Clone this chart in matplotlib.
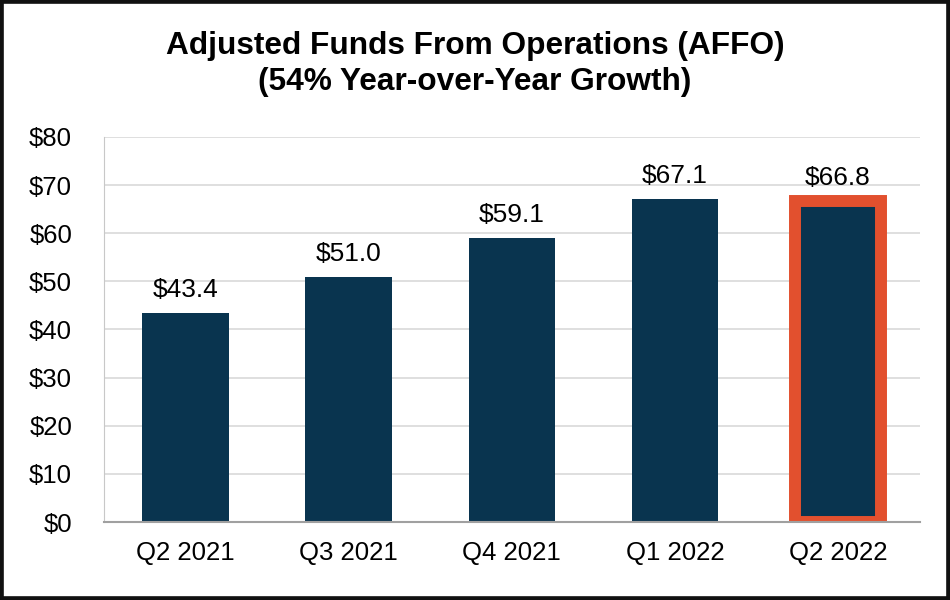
import matplotlib
matplotlib.use("Agg")
import matplotlib.pyplot as plt
from matplotlib.patches import Rectangle

plt.rcParams['font.family'] = ['Liberation Sans', 'DejaVu Sans']

# data
quarters = ["Q2 2021", "Q3 2021", "Q4 2021", "Q1 2022", "Q2 2022"]
affo = [43.4, 51.0, 59.1, 67.1, 66.8]
yticks = [0, 10, 20, 30, 40, 50, 60, 70, 80]

navy = "#09344f"
orange = "#e2502e"

fig = plt.figure(figsize=(9.5, 6), dpi=100)
ax = fig.add_axes([0.1095, 0.13, 0.8585, 0.6417])

x = range(len(quarters))
bars = ax.bar(x, affo, width=0.53, color=navy, zorder=3)
# highlight latest quarter
bars[-1].set_edgecolor(orange)
bars[-1].set_linewidth(8.6)

for i, v in enumerate(affo):
    ax.annotate(f"${v:.1f}", (i, v), xytext=(0, 11.5), textcoords="offset points",
                ha="center", va="baseline", fontsize=19, color="black")

ax.set_xlim(-0.5, len(quarters) - 0.5)
ax.set_ylim(0, 80)
ax.set_yticks(yticks)
ax.set_yticklabels([f"${t}" for t in yticks])
ax.set_xticks(list(x))
ax.set_xticklabels(quarters)
ax.tick_params(axis="y", length=0, pad=23, labelsize=18.5)
ax.tick_params(axis="x", length=0, pad=14, labelsize=18.5)

ax.grid(axis="y", color="#d9d9d9", linewidth=1.2, zorder=0)
for s in ["top", "right"]:
    ax.spines[s].set_visible(False)
ax.spines["left"].set_color("#c8c8c8")
ax.spines["bottom"].set_color("#a0a0a0")
ax.spines["bottom"].set_linewidth(1.5)
ax.spines["bottom"].set_zorder(4)

fig.text(0.5, 0.893, "Adjusted Funds From Operations (AFFO)\n(54% Year-over-Year Growth)",
         ha="center", va="center", fontsize=22.8, fontweight="bold", linespacing=1.27)

# outer frame
fig.patches.append(Rectangle((0, 0), 1, 1, transform=fig.transFigure, fill=False,
                             edgecolor="#111111", linewidth=5.5, zorder=10))

fig.savefig("out.png", dpi=100)
